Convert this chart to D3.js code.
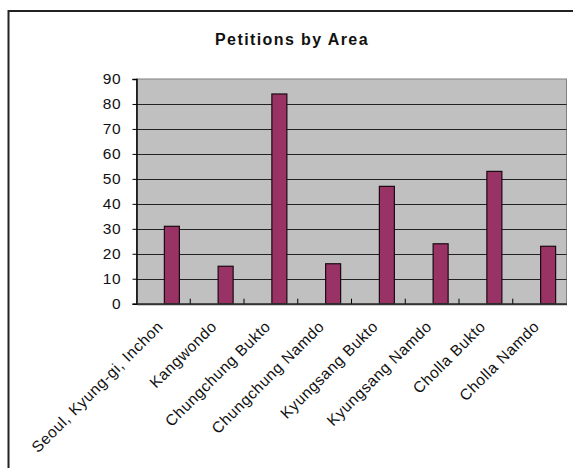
<!DOCTYPE html>
<html><head><meta charset="utf-8">
<script src="https://cdn.jsdelivr.net/npm/d3@7"></script>
<style>body{margin:0;background:#fff;} text{font-family:"Liberation Sans",Arial,sans-serif;}</style>
</head><body>
<svg id="c" width="573" height="468"></svg>
<script>
const categories = ["Seoul, Kyung-gi, Inchon","Kangwondo","Chungchung Bukto","Chungchung Namdo","Kyungsang Bukto","Kyungsang Namdo","Cholla Bukto","Cholla Namdo"];
const values = [31,15,84,16,47,24,53,23];
const yTicks = [0,10,20,30,40,50,60,70,80,90];
const title = "Petitions by Area";

const svg = d3.select("#c");
const L=136.5, R=566.5, T=79, B=303.7;
svg.append("rect").attr("x",8.5).attr("y",11).attr("width",620).attr("height",520)
  .attr("fill","#fff").attr("stroke","#222").attr("stroke-width",2);
const x = d3.scaleBand().domain(categories).range([L,R]);
const y = d3.scaleLinear().domain([0,90]).range([B,T]);
svg.append("rect").attr("x",L).attr("y",T).attr("width",R-L).attr("height",B-T)
  .attr("fill","#c0c0c0").attr("stroke","#808080").attr("stroke-width",1);
svg.append("g").selectAll("line").data(yTicks.slice(1,-1)).join("line")
  .attr("x1",L).attr("x2",R).attr("y1",d=>Math.round(y(d))+0.5).attr("y2",d=>Math.round(y(d))+0.5)
  .attr("stroke","#222").attr("stroke-width",1);
const bw = 15;
svg.append("g").selectAll("rect").data(values).join("rect")
  .attr("x",(d,i)=>x(categories[i])+x.bandwidth()/2+1)
  .attr("y",d=>y(d)).attr("width",bw).attr("height",d=>B-y(d))
  .attr("fill","#993366").attr("stroke","#1a0a10").attr("stroke-width",1.2);
// y axis
const ya = svg.append("g").attr("transform",`translate(${L},0)`)
  .call(d3.axisLeft(y).tickValues(yTicks).tickSize(4).tickPadding(11));
ya.select(".domain").attr("stroke","#000").attr("stroke-width",1.5);
ya.selectAll("line").attr("stroke","#000");
ya.selectAll("text").attr("font-size",15.5).attr("letter-spacing",0.8).attr("fill","#111").style("font-family","'Liberation Sans',Arial,sans-serif");
// x axis
const xa = svg.append("g").attr("transform",`translate(0,${B})`)
  .call(d3.axisBottom(x).tickSize(0).tickFormat(""));
xa.select(".domain").attr("stroke","#333").attr("stroke-width",2);
svg.append("g").selectAll("line").data(categories.slice(1)).join("line")
  .attr("x1",d=>x(d)).attr("x2",d=>x(d)).attr("y1",B).attr("y2",B-5)
  .attr("stroke","#000").attr("stroke-width",1);
svg.append("g").selectAll("text").data(categories).join("text")
  .attr("transform",d=>`translate(${x(d)+x.bandwidth()/2-7},${B+16}) rotate(-45)`)
  .attr("text-anchor","end").attr("dy","0.7em").attr("font-size",15.5).attr("letter-spacing",0.6).attr("fill","#111")
  .text(d=>d);
svg.append("text").attr("x",292).attr("y",45).attr("text-anchor","middle")
  .attr("font-size",16).attr("font-weight","bold").attr("letter-spacing",1.4).attr("fill","#111").text(title);
</script>
</body></html>
